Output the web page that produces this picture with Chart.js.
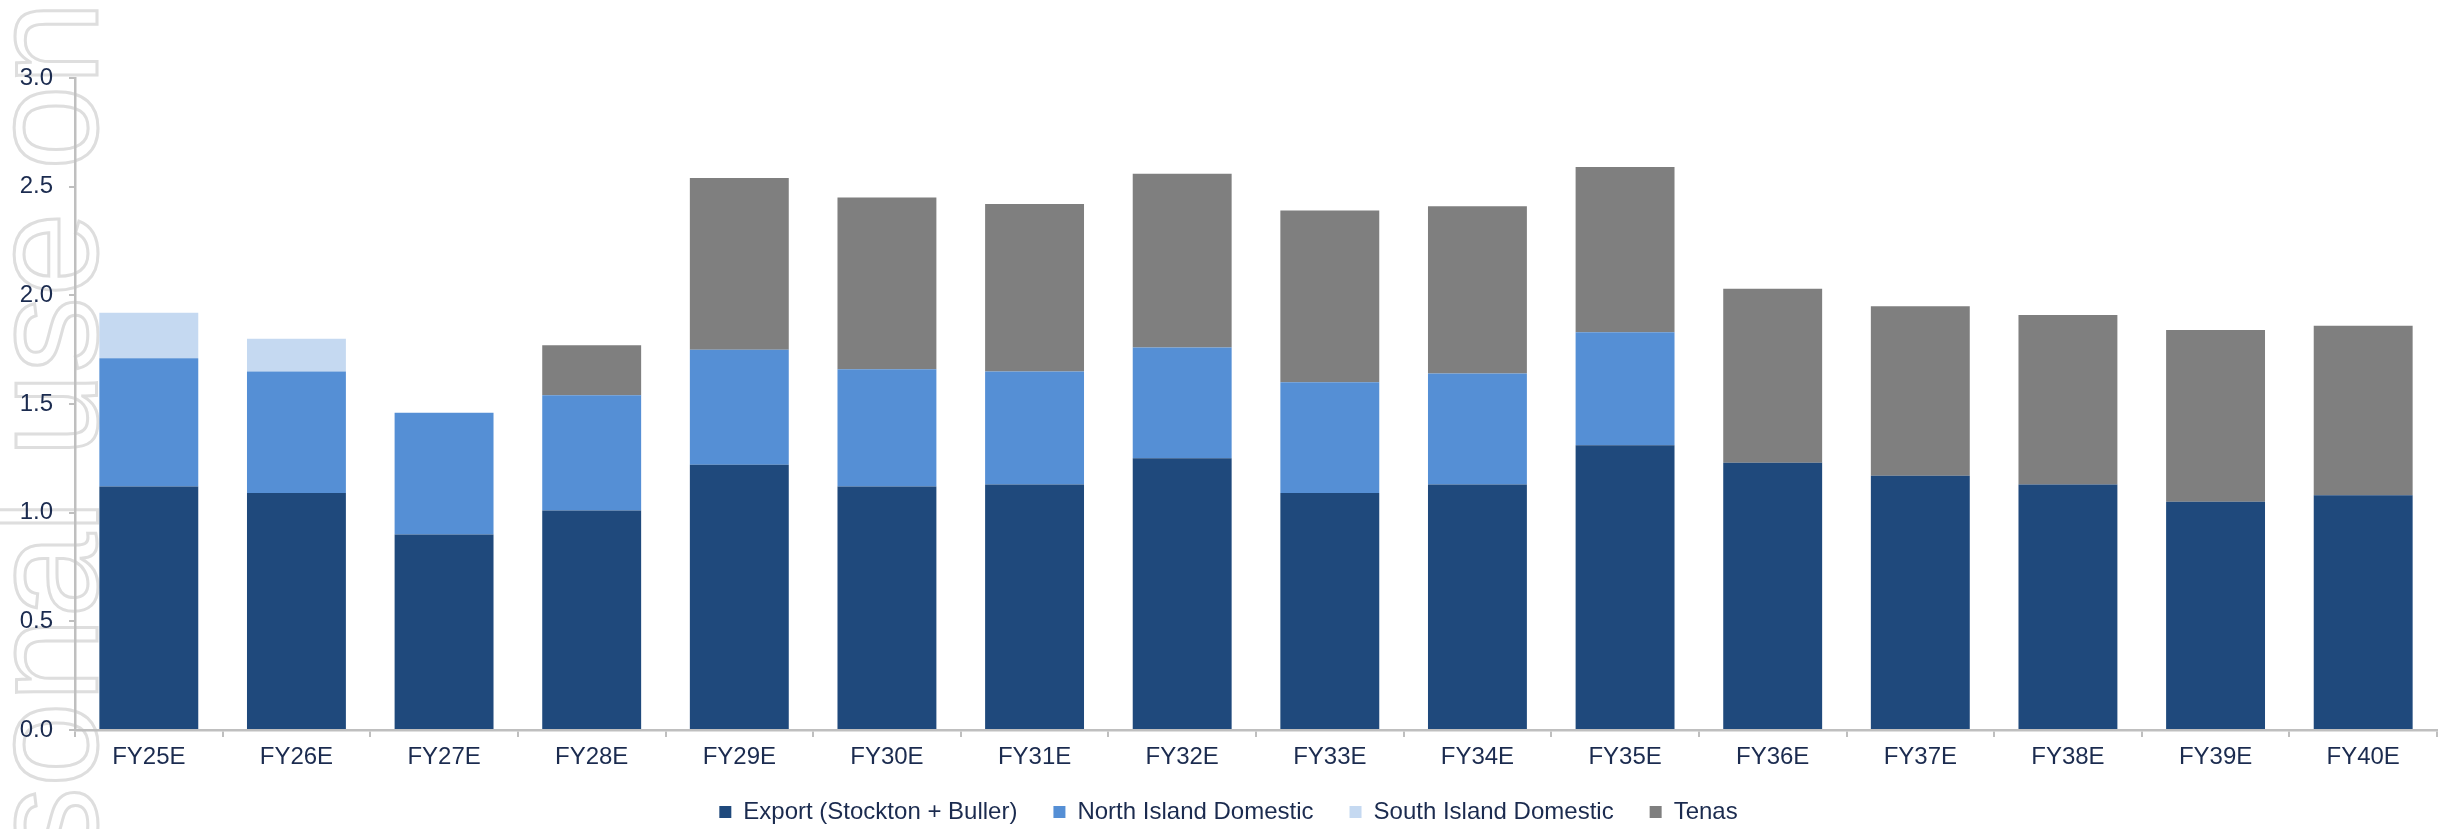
<!DOCTYPE html>
<html>
<head>
<meta charset="utf-8">
<script src="https://cdn.jsdelivr.net/npm/chart.js@4.4.1/dist/chart.umd.min.js"></script>
<style>
  body { margin: 0; background: #fff; }
  canvas { display: block; }
</style>
</head>
<body>
<canvas id="coal-chart" width="2458" height="829"></canvas>
<script>
  // categories + series
  const years = ['FY25E','FY26E','FY27E','FY28E','FY29E','FY30E','FY31E','FY32E',
                 'FY33E','FY34E','FY35E','FY36E','FY37E','FY38E','FY39E','FY40E'];
  const exportVals = [1.12,1.09,0.90,1.01,1.22,1.12,1.13,1.25,1.09,1.13,1.31,1.23,1.17,1.13,1.05,1.08];
  const northIsland = [0.59,0.56,0.56,0.53,0.53,0.54,0.52,0.51,0.51,0.51,0.52,null,null,null,null,null];
  const southIsland = [0.21,0.15,null,null,null,null,null,null,null,null,null,null,null,null,null,null];
  const tenas = [null,null,null,0.23,0.79,0.79,0.77,0.80,0.79,0.77,0.76,0.80,0.78,0.78,0.79,0.78];
  const yTicks = [0, 0.5, 1.0, 1.5, 2.0, 2.5, 3.0];

  const navy = '#1b2b4f';
  const axisGrey = '#bfbfbf';
  const font = { family: "'Liberation Sans', Arial, sans-serif", size: 24 };

  // faint outlined watermark down the left edge (behind everything)
  const watermark = {
    id: 'watermark',
    beforeDraw(chart) {
      const ctx = chart.ctx;
      ctx.save();
      ctx.font = "152px 'Liberation Sans', Arial, sans-serif";
      const lead = ctx.measureText('For personal use ').width;
      ctx.translate(97, 170 + lead);
      ctx.rotate(-Math.PI / 2);
      ctx.textAlign = 'left';
      ctx.textBaseline = 'alphabetic';
      ctx.lineWidth = 3;
      ctx.strokeStyle = '#dedede';
      ctx.strokeText('For personal use only', 0, 0);
      ctx.restore();
    }
  };

  const el = document.getElementById('coal-chart');
  const coalChart = new Chart(el, {
    type: 'bar',
    data: {
      labels: years,
      datasets: [{
        label: 'Export (Stockton + Buller)',
        data: exportVals,
        backgroundColor: '#1f497c'
      },{
        label: 'North Island Domestic',
        data: northIsland,
        backgroundColor: '#558fd5'
      },{
        label: 'South Island Domestic',
        data: southIsland,
        backgroundColor: '#c5d9f1'
      },{
        label: 'Tenas',
        data: tenas,
        backgroundColor: '#7f7f7f'
      }]
    },
    options: {
      responsive: false,
      devicePixelRatio: 1,
      animation: false,
      layout: {
        padding: { top: 78, left: 20, right: 21, bottom: -5 }
      },
      datasets: {
        bar: { barPercentage: 0.67, categoryPercentage: 1.0, borderWidth: 0 }
      },
      plugins: {
        legend: {
          position: 'bottom',
          labels: {
            color: navy,
            font: font,
            boxWidth: 12,
            boxHeight: 12,
            padding: 36
          }
        },
        tooltip: { enabled: false }
      },
      scales: {
        x: {
          stacked: true,
          grid: { drawOnChartArea: false, tickLength: 7, color: axisGrey, lineWidth: 2 },
          border: { color: axisGrey, width: 2.5 },
          ticks: { color: navy, font: font, padding: 6, maxRotation: 0 },
          afterFit: function(scale) { scale.height = 34; }
        },
        y: {
          stacked: true,
          min: 0,
          max: 3,
          afterBuildTicks: function(scale) {
            scale.ticks = yTicks.map(v => ({ value: v }));
          },
          afterFit: function(scale) { scale.width = 55; },
          grid: { drawOnChartArea: false, tickLength: 6, color: axisGrey, lineWidth: 2 },
          border: { color: axisGrey, width: 2.5 },
          ticks: {
            color: navy,
            font: font,
            padding: 16,
            callback: v => Number(v).toFixed(1)
          }
        }
      }
    },
    plugins: [watermark]
  });
</script>
</body>
</html>
